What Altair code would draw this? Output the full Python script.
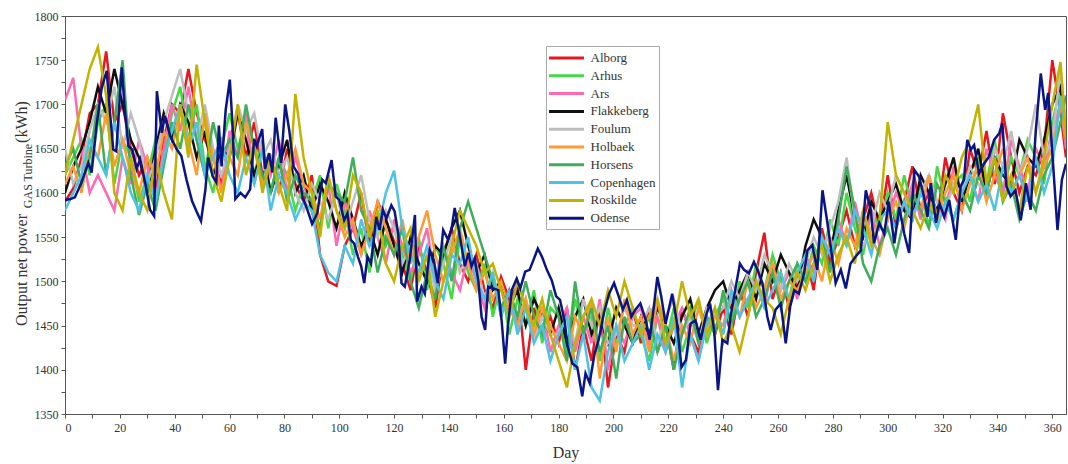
import altair as alt
import pandas as pd

series_names = ["Alborg", "Arhus", "Ars", "Flakkeberg", "Foulum", "Holbaek",
                "Horsens", "Copenhagen", "Roskilde", "Odense"]
series_colors = ["#E8161E", "#45D945", "#FF69B4", "#101010", "#BEBEBE", "#FF9A33",
                 "#3FAE5A", "#4DC3E3", "#C2B300", "#0B1485"]

days = list(range(0, 364, 3)) + [365]

alborg = [1590,1605,1640,1690,1700,1760,1680,1700,1650,1620,
          1640,1600,1660,1700,1690,1740,1690,1660,1640,1610,
          1660,1690,1640,1680,1620,1640,1600,1650,1610,1590,
          1620,1530,1500,1495,1540,1560,1600,1540,1590,1570,
          1545,1520,1490,1540,1510,1470,1530,1560,1520,1500,
          1530,1490,1470,1505,1480,1495,1400,1470,1440,1460,
          1430,1470,1400,1450,1410,1470,1380,1440,1420,1470,
          1430,1470,1420,1450,1400,1470,1440,1420,1460,1440,
          1470,1440,1490,1460,1510,1555,1480,1510,1470,1500,
          1530,1490,1560,1520,1550,1580,1540,1570,1600,1560,
          1620,1560,1590,1630,1580,1600,1570,1640,1600,1580,
          1650,1620,1670,1610,1690,1640,1600,1630,1620,1650,
          1750,1690,1640]
arhus = [1620,1640,1660,1620,1680,1700,1610,1660,1640,1590,
         1620,1660,1640,1690,1720,1660,1700,1630,1600,1650,
         1690,1650,1680,1620,1660,1600,1640,1620,1580,1610,
         1590,1620,1560,1610,1580,1530,1560,1510,1580,1540,
         1560,1530,1500,1550,1490,1540,1520,1480,1550,1510,
         1490,1520,1460,1500,1440,1480,1450,1490,1430,1470,
         1460,1420,1480,1440,1460,1410,1470,1430,1450,1470,
         1440,1410,1460,1430,1470,1420,1450,1480,1430,1460,
         1480,1450,1500,1470,1520,1490,1530,1500,1480,1520,
         1500,1540,1520,1570,1540,1600,1560,1530,1580,1560,
         1600,1570,1620,1580,1610,1560,1630,1590,1610,1620,
         1590,1640,1610,1660,1600,1640,1620,1660,1640,1610,
         1680,1720,1660]
ars = [1705,1730,1650,1600,1620,1600,1580,1640,1610,1660,
       1630,1590,1650,1700,1670,1720,1660,1620,1650,1600,
       1670,1640,1690,1610,1650,1620,1660,1600,1640,1610,
       1580,1560,1610,1540,1590,1560,1530,1580,1550,1520,
       1570,1540,1510,1530,1560,1500,1540,1510,1490,1530,
       1500,1470,1510,1460,1490,1450,1480,1440,1470,1420,
       1450,1470,1420,1460,1430,1480,1400,1450,1430,1460,
       1470,1430,1460,1420,1450,1470,1440,1410,1460,1450,
       1450,1490,1460,1480,1500,1470,1520,1490,1510,1480,
       1530,1510,1550,1530,1570,1540,1590,1550,1580,1540,
       1570,1600,1580,1610,1570,1620,1590,1570,1630,1600,
       1620,1590,1650,1620,1600,1660,1630,1600,1650,1630,
       1670,1700,1650]
flakkeberg = [1600,1630,1650,1680,1720,1690,1740,1700,1660,1640,
              1600,1650,1690,1660,1700,1680,1640,1670,1620,1650,
              1640,1690,1660,1620,1650,1600,1630,1660,1600,1620,
              1580,1610,1590,1560,1600,1570,1540,1560,1530,1570,
              1540,1510,1550,1520,1500,1540,1530,1560,1580,1540,
              1510,1530,1490,1500,1470,1490,1450,1480,1460,1440,
              1470,1430,1460,1480,1440,1460,1430,1470,1450,1430,
              1460,1440,1470,1450,1430,1460,1480,1440,1470,1490,
              1500,1470,1490,1510,1480,1520,1500,1530,1510,1490,
              1540,1570,1550,1530,1580,1620,1570,1550,1590,1570,
              1590,1610,1580,1570,1620,1600,1580,1610,1640,1590,
              1620,1650,1600,1640,1620,1610,1660,1640,1630,1660,
              1700,1720,1660]
foulum = [1650,1610,1630,1670,1700,1680,1720,1650,1690,1660,
          1610,1640,1680,1710,1740,1690,1660,1700,1650,1620,
          1650,1700,1670,1690,1640,1660,1620,1640,1600,1580,
          1610,1590,1570,1600,1560,1590,1620,1570,1550,1580,
          1560,1520,1540,1500,1530,1490,1520,1550,1510,1530,
          1520,1480,1510,1470,1490,1460,1480,1430,1460,1440,
          1440,1460,1430,1480,1450,1470,1430,1440,1470,1450,
          1450,1470,1430,1460,1480,1440,1460,1430,1470,1460,
          1470,1500,1480,1510,1490,1530,1510,1490,1520,1500,
          1520,1550,1530,1560,1590,1640,1570,1540,1560,1600,
          1580,1620,1600,1570,1600,1620,1590,1580,1610,1600,
          1630,1610,1600,1650,1630,1670,1620,1650,1700,1640,
          1660,1740,1680]
holbaek = [1610,1630,1600,1650,1640,1690,1630,1660,1620,1600,
           1640,1620,1670,1650,1700,1660,1620,1690,1640,1600,
           1640,1620,1680,1650,1610,1640,1600,1620,1650,1610,
           1600,1570,1620,1580,1550,1570,1530,1560,1590,1560,
           1530,1570,1520,1550,1580,1530,1500,1530,1560,1520,
           1490,1510,1480,1500,1470,1450,1480,1440,1470,1450,
           1430,1410,1460,1440,1480,1390,1460,1420,1480,1440,
           1460,1420,1480,1450,1410,1450,1430,1470,1440,1460,
           1450,1480,1460,1500,1470,1490,1520,1480,1500,1490,
           1510,1530,1500,1550,1520,1560,1540,1580,1550,1530,
           1570,1590,1560,1600,1580,1620,1570,1600,1620,1580,
           1610,1630,1590,1620,1650,1600,1620,1640,1600,1630,
           1650,1700,1660]
horsens = [1630,1650,1610,1640,1700,1620,1680,1750,1620,1575,
           1610,1580,1630,1680,1650,1700,1660,1620,1680,1640,
           1660,1640,1700,1650,1620,1600,1640,1590,1620,1600,
           1590,1560,1610,1600,1590,1640,1580,1560,1510,1550,
           1530,1560,1500,1470,1510,1480,1540,1500,1560,1590,
           1560,1530,1500,1470,1490,1460,1500,1460,1440,1490,
           1460,1410,1500,1440,1470,1420,1450,1390,1460,1430,
           1440,1460,1420,1450,1400,1440,1470,1430,1460,1440,
           1490,1450,1480,1500,1460,1480,1510,1470,1500,1520,
           1500,1520,1550,1510,1570,1630,1580,1520,1500,1540,
           1560,1530,1570,1600,1580,1560,1610,1590,1570,1600,
           1580,1620,1600,1640,1590,1610,1570,1600,1580,1620,
           1640,1680,1710]
copenhagen = [1580,1600,1620,1660,1640,1620,1680,1640,1600,1580,
              1620,1590,1640,1670,1700,1650,1680,1620,1640,1660,
              1620,1600,1640,1610,1650,1580,1620,1600,1570,1590,
              1580,1530,1510,1500,1540,1520,1570,1540,1560,1600,
              1625,1560,1530,1510,1540,1500,1480,1530,1520,1550,
              1500,1480,1510,1460,1490,1440,1470,1430,1450,1410,
              1440,1460,1400,1440,1380,1365,1420,1450,1410,1430,
              1450,1400,1440,1420,1460,1380,1440,1410,1450,1470,
              1440,1490,1460,1480,1500,1470,1490,1510,1480,1510,
              1530,1500,1550,1530,1560,1540,1580,1560,1530,1570,
              1580,1560,1590,1570,1600,1580,1560,1590,1570,1600,
              1620,1590,1610,1580,1630,1600,1620,1590,1640,1600,
              1630,1710,1670]
roskilde = [1620,1660,1700,1740,1765,1710,1600,1580,1640,1600,
            1580,1640,1600,1570,1700,1640,1745,1680,1620,1590,
            1640,1700,1620,1660,1600,1640,1610,1580,1712,1640,
            1600,1550,1620,1580,1560,1620,1600,1550,1580,1520,
            1500,1540,1560,1500,1530,1460,1500,1540,1580,1560,
            1540,1510,1520,1490,1460,1500,1470,1450,1480,1440,
            1410,1380,1430,1460,1480,1450,1490,1460,1500,1470,
            1440,1460,1480,1430,1450,1500,1460,1480,1440,1470,
            1430,1450,1420,1460,1500,1480,1470,1440,1480,1510,
            1490,1520,1540,1500,1530,1550,1520,1580,1540,1570,
            1680,1620,1600,1580,1560,1590,1570,1620,1600,1640,
            1660,1700,1610,1640,1590,1620,1580,1630,1600,1640,
            1700,1748,1660]

odense_days = [0, 2.0, 3.6, 5.9, 8.5, 9.7, 11.5, 13.4, 15.2, 16.4, 17.6, 18.7, 20.7, 21.7,
               23.1, 24.6, 26.1, 27.4, 29.2, 31.0, 32.5, 33.5, 35.3, 36.4, 38.4, 40.8, 42.4,
               44.3, 46.3, 48.1, 49.6, 51.2, 52.2, 53.8, 55.2, 56.1, 57.1, 58.6, 60.1, 61.1,
               62.1, 64.0, 65.7, 67.5, 69.0, 69.9, 71.9, 72.9, 74.4, 75.6, 76.8, 78.8, 80.3,
               81.8, 83.3, 85.1, 86.7, 88.7, 90.1, 92.0, 93.8, 95.1, 97.2, 98.7, 100.0, 101.8,
               103.0, 104.2, 105.4, 106.8, 108.0, 109.1, 110.3, 111.6, 113.5, 114.7, 115.9,
               117.2, 119.0, 120.2, 121.5, 122.7, 123.9, 125.7, 127.6, 128.4, 130.0, 131.2,
               133.0, 134.5, 135.9, 137.9, 139.7, 140.9, 142.1, 143.8, 145.8, 147.1, 148.2,
               149.4, 150.7, 151.9, 153.2, 154.3, 156.1, 158.0, 159.2, 160.5, 161.5, 162.9,
               164.7, 166.0, 167.8, 169.4, 170.8, 172.4, 173.9, 175.7, 177.5, 179.1, 180.5,
               182.2, 183.2, 185.0, 186.8, 188.6, 189.8, 191.3, 193.1, 194.6, 196.5, 198.4,
               200.2, 201.9, 203.4, 204.9, 206.5, 208.0, 209.8, 211.8, 213.2, 214.7, 216.0,
               217.4, 219.0, 221.4, 223.0, 224.8, 226.4, 228.1, 229.9, 231.8, 233.6, 235.2,
               236.7, 238.1, 239.7, 241.5, 242.7, 244.6, 246.1, 247.6, 249.4, 251.2, 252.5,
               254.3, 256.1, 257.3, 259.1, 261.0, 262.8, 264.4, 265.9, 267.6, 269.5, 270.7,
               272.5, 274.3, 276.2, 278.0, 279.2, 281.0, 282.9, 284.7, 286.4, 288.3, 290.2,
               292.0, 293.8, 295.0, 296.9, 298.7, 300.4, 302.4, 304.2, 306.0, 307.8, 309.7,
               311.5, 313.2, 314.5, 315.7, 317.6, 318.9, 320.6, 322.4, 324.8, 326.6, 327.8,
               329.0, 330.3, 331.5, 333.3, 335.1, 336.9, 338.8, 340.6, 341.8, 343.3, 344.8,
               346.6, 348.5, 350.4, 352.1, 354.0, 355.8, 357.4, 358.5, 360.1, 361.9, 363.5, 365]
odense = [1592, 1593, 1595, 1611, 1634, 1623, 1676, 1719, 1738, 1691, 1649, 1647, 1742, 1698,
          1653, 1649, 1627, 1638, 1612, 1581, 1574, 1715, 1668, 1687, 1664, 1649, 1642,
          1615, 1591, 1578, 1568, 1604, 1640, 1619, 1612, 1676, 1630, 1694, 1728, 1676,
          1593, 1600, 1595, 1604, 1661, 1653, 1672, 1627, 1645, 1623, 1685, 1634, 1700,
          1670, 1630, 1621, 1595, 1578, 1565, 1577, 1615, 1611, 1637, 1596, 1592, 1569,
          1577, 1547, 1543, 1528, 1517, 1498, 1528, 1520, 1573, 1558, 1581,
          1571, 1586, 1579, 1554, 1498, 1494, 1524, 1575, 1477, 1494, 1486,
          1535, 1524, 1498, 1558, 1547, 1558, 1583, 1554, 1517, 1532, 1517,
          1526, 1501, 1460, 1445, 1494, 1492, 1490, 1456, 1407, 1449, 1490,
          1503, 1492, 1511, 1513, 1524, 1537, 1528, 1513, 1501, 1483, 1479,
          1455, 1428, 1407, 1403, 1370, 1396, 1385, 1418, 1434, 1464, 1486,
          1498, 1483, 1468, 1479, 1460, 1468, 1475, 1456, 1434, 1471, 1505,
          1483, 1452, 1486, 1456, 1403, 1411, 1452, 1456, 1434, 1460, 1475,
          1445, 1377, 1434, 1430, 1460, 1494, 1520, 1513, 1509, 1522, 1513,
          1498, 1460, 1445, 1468, 1475, 1430, 1471, 1490, 1486, 1509, 1535,
          1541, 1513, 1603, 1566, 1539, 1498, 1513, 1492, 1520, 1528, 1535,
          1603, 1581, 1543, 1566, 1554, 1590, 1543, 1584, 1554, 1532, 1626,
          1618, 1596, 1573, 1611, 1566, 1588, 1573, 1592, 1547, 1607, 1615,
          1660, 1649, 1654, 1622, 1633, 1641, 1660, 1667, 1679, 1607, 1596,
          1603, 1569, 1611, 1581, 1671, 1735, 1694, 1713, 1641, 1558, 1615, 1633]

grid_series = [alborg, arhus, ars, flakkeberg, foulum, holbaek, horsens, copenhagen, roskilde]
for s in grid_series:
    assert len(s) == len(days), len(s)
assert len(odense_days) == len(odense), (len(odense_days), len(odense))

rows = []
for name, vals in zip(series_names[:9], grid_series):
    for d, v in zip(days, vals):
        rows.append({"series": name, "day": d, "value": v})
for d, v in zip(odense_days, odense):
    rows.append({"series": "Odense", "day": d, "value": v})
df = pd.DataFrame(rows)

FONT = "Liberation Serif"
color_scale = alt.Scale(domain=series_names, range=series_colors)
legend = alt.Legend(
    title=None, orient="none", legendX=481, legendY=30,
    symbolType="M-2.33,0H2.33", symbolSize=225, symbolStrokeWidth=3,
    symbolOffset=8.5,
    labelFont=FONT, labelFontSize=13, labelColor="#333",
    strokeColor="#AAAAAA", fillColor="white", padding=3, rowPadding=1.8,
    labelOffset=15,
)
x_scale = alt.Scale(domain=[0, 365], nice=False, zero=False)
y_scale = alt.Scale(domain=[1350, 1800], nice=False, zero=False)

x_ticks = list(range(0, 361, 10))
y_ticks = list(range(1350, 1801, 25))

x_axis_bottom = alt.Axis(
    values=x_ticks, labelExpr="datum.value % 20 === 0 ? datum.label : ''",
    tickSize=4, format="d",
    title="Day", titleFont=FONT, titleFontSize=16, titleFontWeight="normal",
    titleColor="#333", titlePadding=11, labelFont=FONT, labelFontSize=12,
    labelColor="#333", labelPadding=4, domainColor="#555", tickColor="#555", grid=False,
)
y_axis_left = alt.Axis(
    values=y_ticks, labelExpr="datum.value % 50 === 0 ? datum.label : ''",
    tickSize=4, format="d",
    title="", labelFont=FONT, labelFontSize=12, labelColor="#333", labelPadding=3,
    domainColor="#555", tickColor="#555", grid=False,
)

layers = []
for i, name in enumerate(series_names):
    layer = alt.Chart(df).transform_filter(alt.datum.series == name).mark_line(
        strokeWidth=2.5, clip=True
    ).encode(
        x=alt.X("day:Q", scale=x_scale, axis=x_axis_bottom),
        y=alt.Y("value:Q", scale=y_scale, axis=y_axis_left),
        color=alt.Color("series:N", scale=color_scale, legend=legend),
    )
    layers.append(layer)

tdf = pd.DataFrame({"t": [0]})
t_main = alt.Chart(tdf).mark_text(
    text="Output net power", angle=270, font=FONT, fontSize=16, color="#333",
    align="center", baseline="middle",
).encode(x=alt.value(-43), y=alt.value(254))
t_sub = alt.Chart(tdf).mark_text(
    text="GAS Turbine", angle=270, font=FONT, fontSize=12, color="#333",
    align="center", baseline="middle",
).encode(x=alt.value(-37), y=alt.value(160))
t_unit = alt.Chart(tdf).mark_text(
    text="(kWh)", angle=270, font=FONT, fontSize=16, color="#333",
    align="center", baseline="middle",
).encode(x=alt.value(-43), y=alt.value(106))
layers += [t_main, t_sub, t_unit]

chart = alt.layer(*layers).properties(
    width=1001, height=398,
    padding={"left": 14, "top": 10, "right": 2, "bottom": 4},
    background="white",
).configure_view(stroke="#555", strokeWidth=1)

chart.save("out.html", embed_options={"renderer": "svg", "actions": False})
